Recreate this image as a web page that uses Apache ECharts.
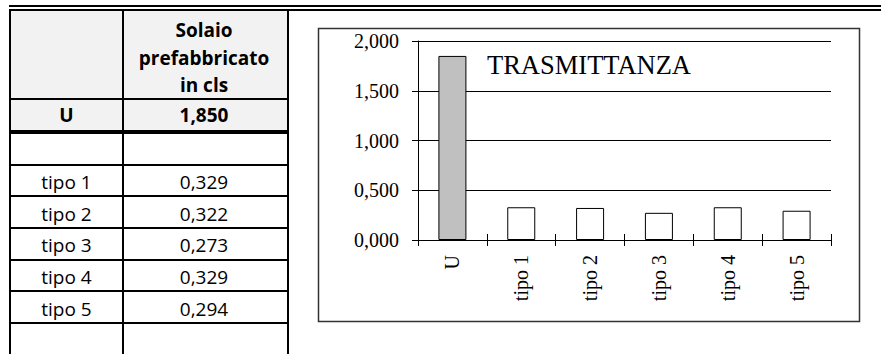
<!DOCTYPE html>
<html>
<head>
<meta charset="utf-8">
<script src="https://cdn.jsdelivr.net/npm/echarts@6/dist/echarts.min.js"></script>
<style>
  html, body { margin: 0; padding: 0; background: #fff; }
  #c { width: 881px; height: 354px; }
</style>
</head>
<body>
<div id="c"></div>
<script>
// Thermal transmittance of the precast concrete slab and its variants
const categories = ['U', 'tipo 1', 'tipo 2', 'tipo 3', 'tipo 4', 'tipo 5'];
const values = [1.850, 0.329, 0.322, 0.273, 0.329, 0.294];
const seriesHeader = ['Solaio', 'prefabbricato', 'in cls'];
const chartTitle = 'TRASMITTANZA';
const yMin = 0, yMax = 2, yStep = 0.5;

// Italian decimal notation: 1.85 -> "1,850"
const fmt = v => v.toFixed(3).replace('.', ',');

const INK = '#000';
const SANS = '"Open Sans", sans-serif';
const SERIF = '"Liberation Serif", "Times New Roman", serif';
const FS = 19;

// ---- spreadsheet block on the left ----
const g = [];
const bar = (x, y, w, h) => g.push({ type: 'rect', shape: { x, y, width: w, height: h }, style: { fill: INK }, z: 10 });
const txt = (text, x, y, bold) => g.push({
  type: 'text', x, y, z: 11,
  style: { text, fill: INK, font: (bold ? 'bold ' : '') + FS + 'px ' + SANS, align: 'center', verticalAlign: 'middle' }
});

// shaded header band
g.push({ type: 'rect', shape: { x: 11, y: 11, width: 276, height: 119 }, style: { fill: '#f2f2f2' }, z: 1 });

// double rule across the top
bar(9, 5, 872, 2);
bar(9, 9, 872, 2);

// column rules
const colEdges = [9, 122, 287];
colEdges.forEach(x => bar(x, 9, 2, 345));
const colMid = [66.5, 204];

// row rules
bar(9, 98, 280, 2);
bar(9, 130, 280, 4);
const rowLines = [164.5, 196.2, 227.9, 259.6, 291.3, 323];
rowLines.forEach(y => bar(9, Math.round(y) - 1, 280, 2));

// header text
const headerBase = [35, 63, 90];
seriesHeader.forEach((t, i) => txt(t, colMid[1], headerBase[i] - 5.5, true));

// U row
txt(categories[0], colMid[0], 114.5, true);
txt(fmt(values[0]), colMid[1], 114.5, true);

// variant rows, one per band between consecutive rules
for (let i = 1; i < categories.length; i++) {
  const top = rowLines[i - 1], bottom = rowLines[i];
  const cy = (top + bottom) / 2 + 1.5;
  txt(categories[i], colMid[0], cy, false);
  txt(fmt(values[i]), colMid[1], cy, false);
}

// ---- chart frame and title ----
g.push({ type: 'rect', shape: { x: 318.5, y: 28.5, width: 541, height: 293 }, style: { fill: 'none', stroke: '#333', lineWidth: 1.5 }, z: 5 });
g.push({ type: 'text', x: 487, y: 65, z: 12, style: { text: chartTitle, fill: INK, font: '26.5px ' + SERIF, align: 'left', verticalAlign: 'middle' } });

const chart = echarts.init(document.getElementById('c'), null, { renderer: 'svg' });
chart.setOption({
  animation: false,
  backgroundColor: '#fff',
  graphic: g,
  grid: { left: 418, top: 41, right: 50, bottom: 114, containLabel: false },
  xAxis: [
    {
      type: 'category', data: categories, boundaryGap: true, position: 'bottom',
      axisLine: { show: true, lineStyle: { color: INK, width: 1 } },
      axisTick: { show: true, inside: false, length: 6, lineStyle: { color: INK } },
      axisLabel: { rotate: 90, margin: 15, color: INK, fontFamily: SERIF, fontSize: 20 }
    },
    {
      type: 'category', data: categories, boundaryGap: true, position: 'bottom',
      axisLine: { show: false },
      axisTick: { show: true, inside: true, length: 6, lineStyle: { color: INK } },
      axisLabel: { show: false }
    }
  ],
  yAxis: {
    type: 'value', min: yMin, max: yMax, interval: yStep,
    axisLine: { show: true, lineStyle: { color: INK, width: 1 } },
    axisTick: { show: true, inside: false, length: 6, lineStyle: { color: INK } },
    axisLabel: { margin: 19, color: INK, fontFamily: SERIF, fontSize: 20, formatter: fmt },
    splitLine: { show: true, lineStyle: { color: INK, width: 1 } }
  },
  series: [{
    type: 'bar',
    name: seriesHeader.join(' '),
    xAxisIndex: 0,
    barWidth: 28,
    data: values.map((v, i) => ({
      value: v,
      itemStyle: { color: i === 0 ? '#c0c0c0' : '#fff', borderColor: INK, borderWidth: 1 }
    }))
  }]
});
</script>
</body>
</html>
